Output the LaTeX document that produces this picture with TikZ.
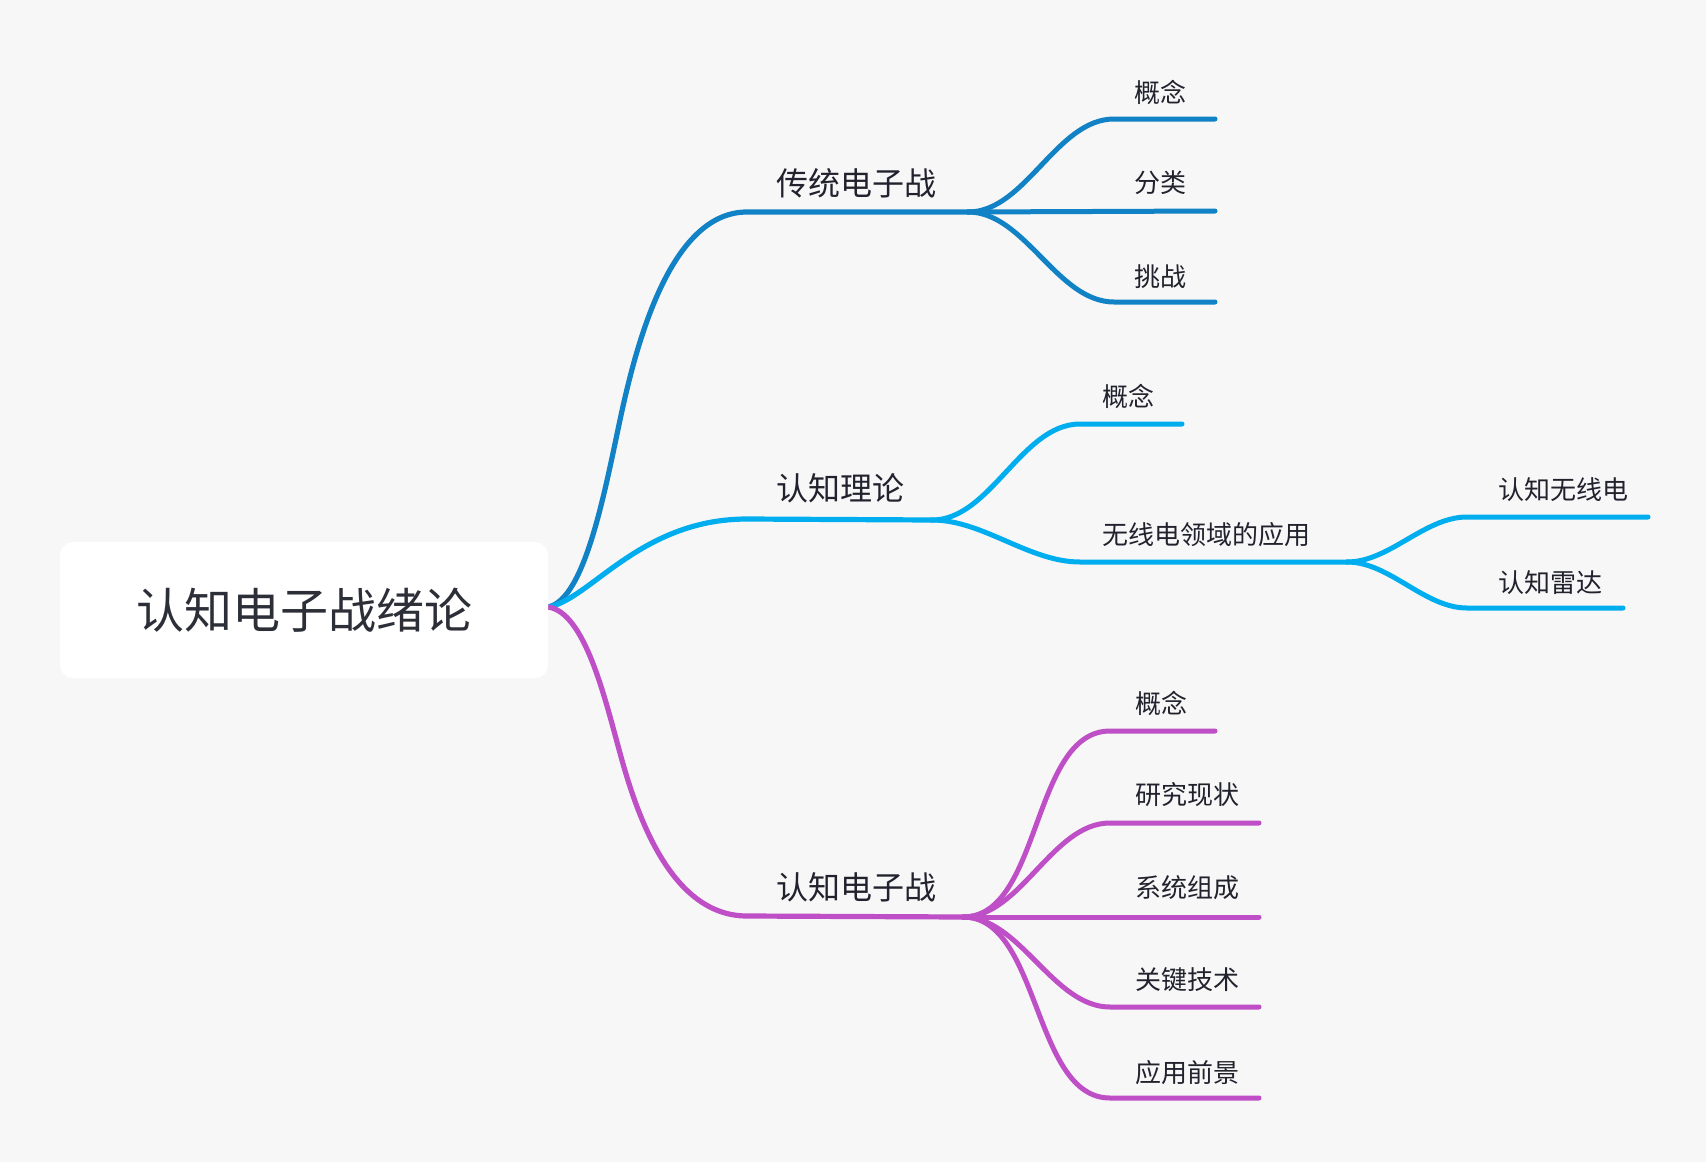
\documentclass[tikz,border=0pt]{standalone}
\usepackage{fontspec}
\setmainfont{Noto Sans CJK SC}
\definecolor{bgc}{HTML}{F7F7F7}
\definecolor{txtc}{HTML}{22222E}
\definecolor{roottxt}{HTML}{2C2F37}
\definecolor{cdark}{HTML}{1182C5}
\definecolor{clight}{HTML}{00AEEF}
\definecolor{cmag}{HTML}{BE4FC6}
\begin{document}
\begin{tikzpicture}[x=1pt,y=-1pt,
  rootbox/.style={fill=white,rounded corners=13pt,minimum width=488pt,minimum height=136pt,inner sep=0pt,text=roottxt,font=\fontsize{48}{52}\selectfont},
  lblA/.style={anchor=west,inner sep=0pt,text=txtc,font=\fontsize{32}{36}\selectfont},
  lblB/.style={anchor=west,inner sep=0pt,text=txtc,font=\fontsize{26}{30}\selectfont},
  brline/.style={line width=5.2pt,line cap=round,line join=round},
  chline/.style={line width=5pt,line cap=round,line join=round},
  sc/.style={out=0,in=180,looseness=0.85}
]
\fill[bgc] (0,0) rectangle (1706,1162);
\useasboundingbox (0,0) rectangle (1706,1162);

% coordinates
\coordinate (r0) at (548,607);
\coordinate (b1a) at (747,212);
\coordinate (b1f) at (968,212);
\coordinate (b2a) at (747,519);
\coordinate (b2f) at (932,520);
\coordinate (b3a) at (747,916);
\coordinate (b3f) at (963,917);

\coordinate (c11s) at (1114,119); \coordinate (c11e) at (1215,119);
\coordinate (c12e) at (1215,211);
\coordinate (c13s) at (1114,302); \coordinate (c13e) at (1215,302);

\coordinate (c21s) at (1080,424); \coordinate (c21e) at (1182,424);
\coordinate (c22s) at (1080,562); \coordinate (c22f) at (1347,562);
\coordinate (g1s) at (1467,517); \coordinate (g1e) at (1648,517);
\coordinate (g2s) at (1467,608); \coordinate (g2e) at (1623,608);

\coordinate (c31s) at (1110,731); \coordinate (c31e) at (1215,731);
\coordinate (c32s) at (1110,823); \coordinate (c32e) at (1259,823);
\coordinate (c33e) at (1259,917);
\coordinate (c34s) at (1110,1007); \coordinate (c34e) at (1259,1007);
\coordinate (c35s) at (1110,1098); \coordinate (c35e) at (1259,1098);

% main branches
\draw[cdark,brline] (r0) .. controls (585,600) and (605,490) .. (620,420)
   .. controls (636,345) and (670,212) .. (b1a) -- (b1f);
\draw[clight,brline] (r0) .. controls (590,600) and (640,519) .. (b2a) -- (b2f);
\draw[cmag,brline] (r0) .. controls (585,612) and (605,699) .. (620,753)
   .. controls (636,812) and (670,916) .. (b3a) -- (b3f);

% branch 1 children
\draw[cdark,chline] (b1f) to[sc] (c11s) -- (c11e);
\draw[cdark,chline] (b1f) -- (c12e);
\draw[cdark,chline] (b1f) to[sc] (c13s) -- (c13e);

% branch 2 children
\draw[clight,chline] (b2f) to[sc] (c21s) -- (c21e);
\draw[clight,chline] (b2f) to[sc] (c22s) -- (c22f);
\draw[clight,chline] (c22f) to[sc] (g1s) -- (g1e);
\draw[clight,chline] (c22f) to[sc] (g2s) -- (g2e);

% branch 3 children
\draw[cmag,chline] (b3f) to[sc] (c31s) -- (c31e);
\draw[cmag,chline] (b3f) to[sc] (c32s) -- (c32e);
\draw[cmag,chline] (b3f) -- (c33e);
\draw[cmag,chline] (b3f) to[sc] (c34s) -- (c34e);
\draw[cmag,chline] (b3f) to[sc] (c35s) -- (c35e);

% root
\node[rootbox] (root) at (304,610) {认知电子战绪论};

% labels
\node[lblA] (t1) at (776,183) {传统电子战};
\node[lblA] (t2) at (776,488) {认知理论};
\node[lblA] (t3) at (776,887) {认知电子战};

\node[lblB] (t11) at (1134,92) {概念};
\node[lblB] (t12) at (1134,183) {分类};
\node[lblB] (t13) at (1134,277) {挑战};

\node[lblB] (t21) at (1102,396) {概念};
\node[lblB] (t22) at (1102,535) {无线电领域的应用};
\node[lblB] (t221) at (1498,490) {认知无线电};
\node[lblB] (t222) at (1498,583) {认知雷达};

\node[lblB] (t31) at (1135,703) {概念};
\node[lblB] (t32) at (1135,795) {研究现状};
\node[lblB] (t33) at (1135,888) {系统组成};
\node[lblB] (t34) at (1135,980) {关键技术};
\node[lblB] (t35) at (1135,1073) {应用前景};
\end{tikzpicture}
\end{document}
